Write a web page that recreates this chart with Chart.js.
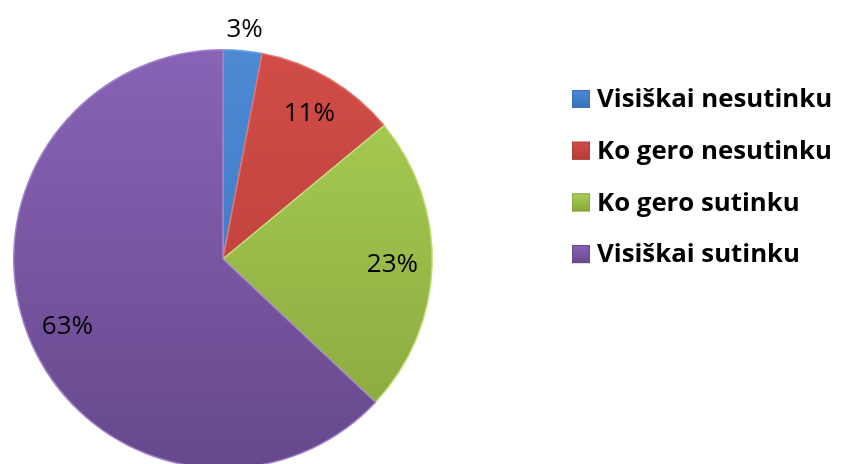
<!DOCTYPE html>
<html>
<head>
<meta charset="utf-8">
<script src="https://cdn.jsdelivr.net/npm/chart.js@4.4.1/dist/chart.umd.min.js"></script>
<style>
  html, body { margin: 0; padding: 0; background: #fff; overflow: hidden; }
  #wrap { position: relative; width: 841px; height: 480px; }
  #pie { display: block; }
</style>
</head>
<body>
<div id="wrap"><canvas id="pie" width="841" height="480"></canvas></div>
<script>
(() => {
  'use strict';

  const categories = ['Visiškai nesutinku', 'Ko gero nesutinku', 'Ko gero sutinku', 'Visiškai sutinku'];
  const shares = [3, 11, 23, 63];
  const shareLabels = ['3%', '11%', '23%', '63%'];

  const topColors = ['#4c8ad6', '#d14c47', '#abcf56', '#8963b6'];
  const bottomColors = ['#3a70b8', '#b53c38', '#87a63c', '#67488c'];
  const edgeColors = ['#6fa2e2', '#e07470', '#c2de7c', '#a184c9'];

  const sliceFill = (ctx) => {
    const i = ctx.dataIndex;
    const area = ctx.chart.chartArea;
    if (!area) return topColors[i];
    const g = ctx.chart.ctx.createLinearGradient(0, area.top, 0, area.bottom);
    g.addColorStop(0, topColors[i]);
    g.addColorStop(1, bottomColors[i]);
    return g;
  };

  // percentage labels placed along each slice's middle ray
  const pctLabels = {
    id: 'pctLabels',
    afterDatasetsDraw(chart) {
      const { ctx } = chart;
      const arcs = chart.getDatasetMeta(0).data;
      ctx.save();
      ctx.font = '26px "Open Sans", sans-serif';
      ctx.fillStyle = '#000';
      ctx.textAlign = 'center';
      ctx.textBaseline = 'middle';
      arcs.forEach((arc, i) => {
        const p = arc.getProps(['x', 'y', 'startAngle', 'endAngle', 'outerRadius'], true);
        const mid = (p.startAngle + p.endAngle) / 2;
        const k = shares[i] < 5 ? 1.1 : 0.81;
        ctx.fillText(shareLabels[i], p.x + Math.cos(mid) * p.outerRadius * k, p.y + Math.sin(mid) * p.outerRadius * k);
      });
      ctx.restore();
    }
  };

  const sideLegend = {
    id: 'sideLegend',
    afterDraw(chart) {
      const { ctx } = chart;
      const x0 = 572, y0 = 99, step = 51.7, box = 18;
      ctx.save();
      ctx.font = 'bold 25.8px "Open Sans", sans-serif';
      ctx.textBaseline = 'middle';
      ctx.textAlign = 'left';
      categories.forEach((name, i) => {
        const y = y0 + i * step;
        const g = ctx.createLinearGradient(0, y - box / 2, 0, y + box / 2);
        g.addColorStop(0, topColors[i]);
        g.addColorStop(1, bottomColors[i]);
        ctx.fillStyle = g;
        ctx.fillRect(x0, y - box / 2, box, box);
        ctx.strokeStyle = bottomColors[i];
        ctx.lineWidth = 1;
        ctx.strokeRect(x0 + 0.5, y - box / 2 + 0.5, box - 1, box - 1);
        ctx.fillStyle = '#000';
        ctx.fillText(name, x0 + 25, y + 1);
      });
      ctx.restore();
    }
  };

  new Chart(document.getElementById('pie'), {
    type: 'pie',
    data: {
      labels: categories,
      datasets: [{
        data: shares,
        backgroundColor: sliceFill,
        borderColor: edgeColors,
        borderWidth: 1.5
      }]
    },
    options: {
      responsive: false,
      animation: false,
      devicePixelRatio: 1,
      layout: { padding: { left: 13, top: 49, right: 408, bottom: 11 } },
      plugins: { legend: { display: false }, tooltip: { enabled: false } }
    },
    plugins: [pctLabels, sideLegend]
  });
})();
</script>
</body>
</html>
